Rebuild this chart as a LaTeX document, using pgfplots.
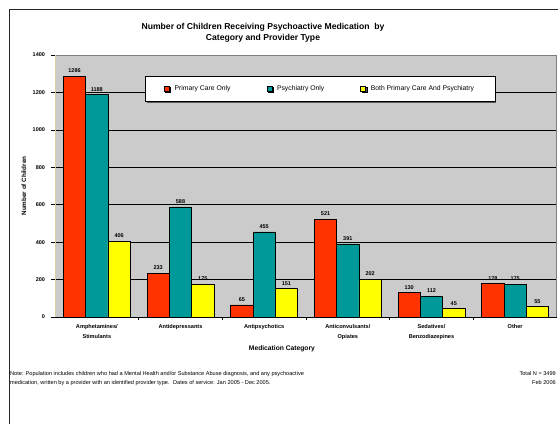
\documentclass[border=0pt]{standalone}
\usepackage{pgfplots}
\pgfplotsset{compat=1.18}
\usepackage{fontspec}
\setmainfont{Liberation Sans}
\usetikzlibrary{shadows}

\definecolor{pcred}{HTML}{FF3300}
\definecolor{psyteal}{HTML}{009999}
\definecolor{bothyel}{HTML}{FFFF00}
\definecolor{plotgray}{HTML}{CBCBCB}
\definecolor{framegray}{HTML}{7F7F7F}
\definecolor{axtan}{HTML}{D8D0A0}

% Children receiving psychoactive medication, by category (0..5) and provider type
\pgfplotstableread{
x primary psychiatry both
0 1286 1188 406
1 233  588  175
2 65   455  151
3 521  391  202
4 130  112  45
5 178  175  55
}\meddata

\newcommand{\sz}[1]{\fontsize{#1}{#1}\selectfont}

\begin{document}
\begin{tikzpicture}
\path[use as bounding box] (0pt,0pt) rectangle (558pt,424pt);
% chart frame
\draw[black!85, line width=0.8pt] (9pt,0pt) -- (9pt,415pt) -- (558pt,415pt);

\begin{axis}[
  at={(55pt,107pt)}, anchor=south west,
  scale only axis, width=502pt, height=262pt,
  ybar=0pt, bar width=22.3pt,
  xmin=-0.5, xmax=5.5, ymin=0, ymax=1400,
  axis background/.style={fill=plotgray},
  axis line style={draw=none},
  xtick={0,...,5},
  xticklabels={{Amphetamines/\\[4pt]Stimulants},Antidepressants,Antipsychotics,{Anticonvulsants/\\[4pt]Opiates},{Sedatives/\\[4pt]Benzodiazepines},Other},
  minor xtick={0.5,1.5,2.5,3.5,4.5},
  ytick={0,200,...,1400},
  tick align=outside, tickpos=left,
  major x tick style={draw=none},
  minor x tick style={black, line width=0.5pt},
  minor tick length=3pt,
  major tick length=4pt,
  y tick style={black, line width=0.6pt},
  ymajorgrids, major grid style={black, line width=0.6pt},
  /pgf/number format/assume math mode=true,
  /pgf/number format/1000 sep={},
  xticklabel style={font=\sz{5.6}\bfseries, align=center, yshift=0pt},
  yticklabel style={font=\sz{5.5}\bfseries, xshift=-2.5pt},
  every axis y label/.style={at={(axis description cs:-0.062,0.5)}, rotate=90, anchor=center, font=\sz{6.3}\bfseries},
  ylabel={Number of Children},
  every axis x label/.style={at={(axis description cs:0.452,-0.122)}, anchor=center, font=\sz{6.7}\bfseries},
  xlabel={Medication Category},
  nodes near coords,
  every node near coord/.append style={font=\sz{5.5}\bfseries, black, inner sep=3.2pt},
  legend columns=3,
  legend style={at={(axis description cs:0.528,0.872)}, anchor=center, fill=white, draw=black, line width=0.6pt,
    font=\sz{6.8}, inner xsep=19pt, inner ysep=7.5pt,
    drop shadow={shadow xshift=1.4pt, shadow yshift=-1.4pt, fill=black!65, opacity=1},
    /tikz/every odd column/.append style={column sep=3pt},
    /tikz/every even column/.append style={column sep=34pt}},
  legend image code/.code={\draw[#1, draw=black, line width=0.5pt] (0pt,-2.6pt) rectangle (5pt,2.6pt);},
  legend cell align=left,
]
\addplot[fill=pcred, draw=black, line width=0.6pt] table[x=x, y=primary] {\meddata};
\addplot[fill=psyteal, draw=black, line width=0.6pt] table[x=x, y=psychiatry] {\meddata};
\addplot[fill=bothyel, draw=black, line width=0.6pt] table[x=x, y=both] {\meddata};
\legend{Primary Care Only, Psychiatry Only, Both Primary Care And Psychiatry}
% plot area border
\draw[framegray, line width=1.2pt] (rel axis cs:0,1) -- (rel axis cs:1,1) -- (rel axis cs:1,0);
\draw[axtan, line width=0.8pt] (rel axis cs:0,0) -- (rel axis cs:0,1);
\draw[black, line width=0.8pt] (rel axis cs:0,0) -- (rel axis cs:1,0);
\end{axis}

% title
\node[font=\sz{8.6}\bfseries, align=center, inner sep=0pt] at (263pt,{424pt-33pt})
  {Number of Children Receiving Psychoactive Medication~ by\\[2pt]Category and Provider Type};
% footnotes
\node[font=\sz{5.6}, align=left, anchor=north west, inner sep=0pt] at (10pt,{424pt-371.5pt})
  {Note: Population includes children who had a Mental Health and/or Substance Abuse diagnosis, and any psychoactive\\[3pt]medication, written by a provider with an identified provider type.~ Dates of service: Jan 2005 - Dec 2005.};
\node[font=\sz{5.6}, align=right, anchor=north east, inner sep=0pt] at (556pt,{424pt-371.5pt})
  {Total N = 3499\\[3pt]Feb 2006};
\end{tikzpicture}
\end{document}
